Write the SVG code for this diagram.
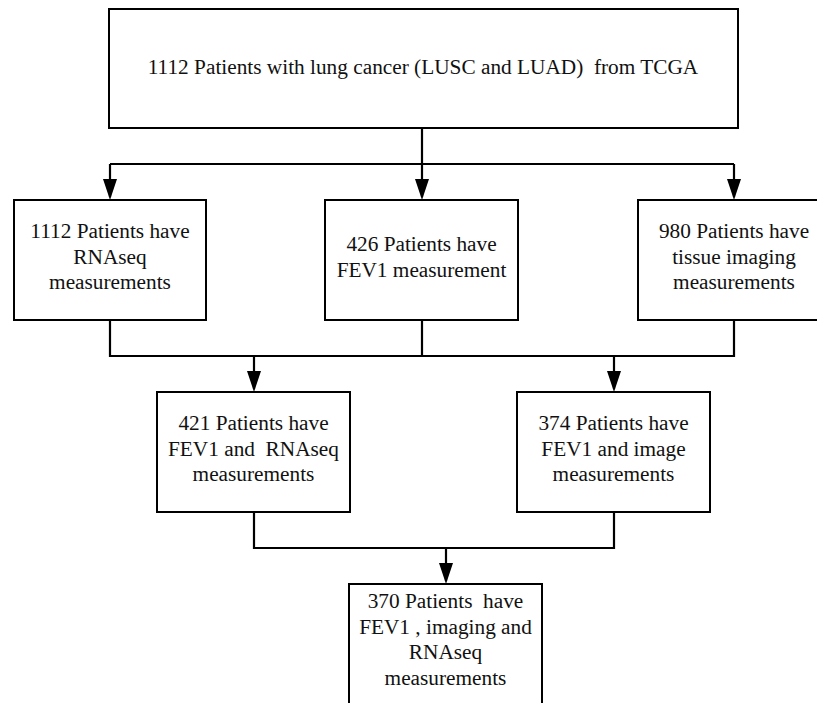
<svg xmlns="http://www.w3.org/2000/svg" width="817" height="703" viewBox="0 0 817 703">
<style>
.box{fill:#fff;stroke:#000;stroke-width:2}
.t{font-family:'Liberation Serif',serif;font-size:21.3px;fill:#111;text-anchor:middle}
.c{fill:none;stroke:#000;stroke-width:2.2}
</style>
<defs>
<marker id="arr" viewBox="0 0 21 14" markerWidth="21" markerHeight="14" refX="18" refY="7" orient="auto" markerUnits="userSpaceOnUse">
<path d="M0,0 L21,7 L0,14 z" fill="#000"/>
</marker>
</defs>
<rect width="817" height="703" fill="#fff"/>
<g id="connectors">
<path class="c" d="M422,128 V164 M110,164 H734"/>
<path class="c" d="M110,164 V197" marker-end="url(#arr)"/>
<path class="c" d="M422,164 V197" marker-end="url(#arr)"/>
<path class="c" d="M734,164 V197" marker-end="url(#arr)"/>
<path class="c" d="M110,320 V356 H734 V320 M422,320 V356"/>
<path class="c" d="M254,356 V389" marker-end="url(#arr)"/>
<path class="c" d="M614,356 V389" marker-end="url(#arr)"/>
<path class="c" d="M254,512 V548 H614 V512"/>
<path class="c" d="M446,548 V581" marker-end="url(#arr)"/>
</g>
<g id="n-top">
<rect class="box" x="109" y="9" width="629" height="119"/>
<text class="t" x="423" y="74" xml:space="preserve">1112 Patients with lung cancer (LUSC and LUAD)  from TCGA</text>
</g>
<g id="n-rnaseq">
<rect class="box" x="14" y="200" width="192" height="120"/>
<text class="t" x="110" y="238">1112 Patients have</text>
<text class="t" x="110" y="264">RNAseq</text>
<text class="t" x="110" y="289">measurements</text>
</g>
<g id="n-fev1">
<rect class="box" x="325" y="200" width="193" height="120"/>
<text class="t" x="421.5" y="251">426 Patients have</text>
<text class="t" x="421.5" y="276.5">FEV1 measurement</text>
</g>
<g id="n-imaging">
<rect class="box" x="638" y="200" width="192" height="120"/>
<text class="t" x="734" y="238">980 Patients have</text>
<text class="t" x="734" y="263.5">tissue imaging</text>
<text class="t" x="734" y="289">measurements</text>
</g>
<g id="n-fev1-rnaseq">
<rect class="box" x="157" y="392" width="193" height="120"/>
<text class="t" x="253.5" y="430">421 Patients have</text>
<text class="t" x="253.5" y="456" xml:space="preserve">FEV1 and  RNAseq</text>
<text class="t" x="253.5" y="481">measurements</text>
</g>
<g id="n-fev1-image">
<rect class="box" x="517" y="392" width="193" height="120"/>
<text class="t" x="613.5" y="430">374 Patients have</text>
<text class="t" x="613.5" y="456">FEV1 and image</text>
<text class="t" x="613.5" y="481">measurements</text>
</g>
<g id="n-all">
<rect class="box" x="349" y="584" width="193" height="140"/>
<text class="t" x="445.5" y="608" xml:space="preserve">370 Patients  have</text>
<text class="t" x="445.5" y="634">FEV1 , imaging and</text>
<text class="t" x="445.5" y="659">RNAseq</text>
<text class="t" x="445.5" y="685">measurements</text>
</g>
</svg>
